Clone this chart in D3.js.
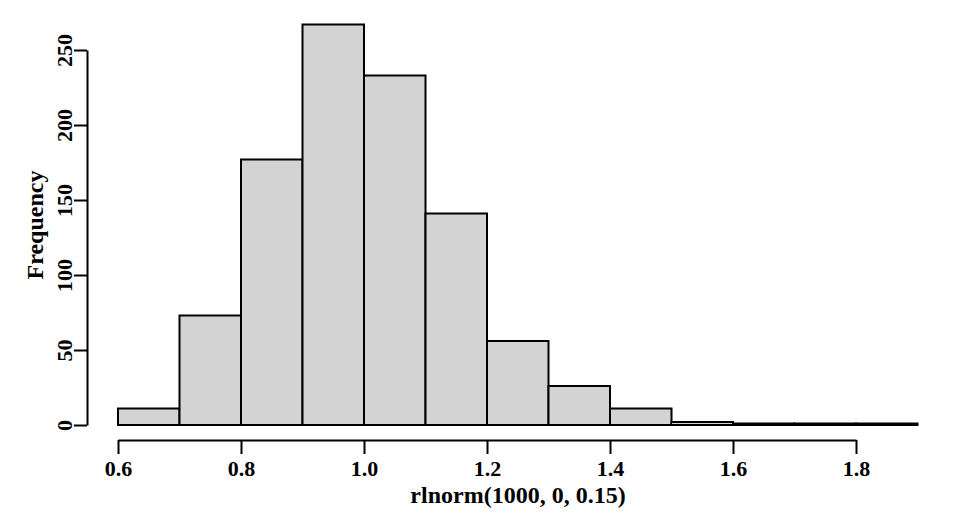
<!DOCTYPE html>
<html>
<head>
<meta charset="utf-8">
<script src="https://cdn.jsdelivr.net/npm/d3@7"></script>
<style>
  body { margin: 0; background: #fff; }
  svg { display: block; }
</style>
</head>
<body>
<svg width="960" height="528"></svg>
<script>
// histogram bins (left edges) and counts
const binStarts = [0.6, 0.7, 0.8, 0.9, 1.0, 1.1, 1.2, 1.3, 1.4, 1.5, 1.6, 1.7, 1.8];
const binWidth = 0.1;
const counts = [11, 73, 177, 267, 233, 141, 56, 26, 11, 2, 1, 1, 1];
const xTicks = [0.6, 0.8, 1.0, 1.2, 1.4, 1.6, 1.8];
const yTicks = [0, 50, 100, 150, 200, 250];
const xTitle = "rlnorm(1000, 0, 0.15)";
const yTitle = "Frequency";

const svg = d3.select("svg");
const font = "'Liberation Serif', 'Times New Roman', serif";

const x = d3.scaleLinear().domain([0.6, 1.8]).range([118, 856]);
const y = d3.scaleLinear().domain([0, 250]).range([425, 50]);

const bins = binStarts.map((b, i) => ({x0: b, x1: b + binWidth, n: counts[i]}));

svg.append("g")
    .selectAll("rect")
    .data(bins)
    .join("rect")
    .attr("x", d => x(d.x0))
    .attr("y", d => y(d.n))
    .attr("width", d => x(d.x1) - x(d.x0))
    .attr("height", d => y(0) - y(d.n))
    .attr("fill", "#d3d3d3")
    .attr("stroke", "#000")
    .attr("stroke-width", 2);

// x axis
const xAxis = svg.append("g")
    .attr("transform", "translate(0,440)")
    .call(d3.axisBottom(x).tickValues(xTicks).tickFormat(d3.format(".1f")).tickSize(14).tickSizeOuter(0));
xAxis.select(".domain").attr("stroke-width", 2);
xAxis.selectAll(".tick line").attr("stroke-width", 2);
xAxis.selectAll(".tick text")
    .attr("font-family", font)
    .attr("font-weight", "bold")
    .attr("font-size", 22)
    .attr("fill", "#000")
    .attr("y", 20)
    .attr("dy", "0.71em");

// y axis
const yAxis = svg.append("g")
    .attr("transform", "translate(87,0)")
    .call(d3.axisLeft(y).tickValues(yTicks).tickSize(13).tickSizeOuter(0));
yAxis.select(".domain").attr("stroke-width", 2);
yAxis.selectAll(".tick line").attr("stroke-width", 2);
yAxis.selectAll(".tick text")
    .attr("font-family", font)
    .attr("font-weight", "bold")
    .attr("font-size", 22)
    .attr("fill", "#000")
    .attr("x", null)
    .attr("dy", null)
    .attr("text-anchor", "middle")
    .attr("transform", "translate(-15,0) rotate(-90)");

// titles
svg.append("text")
    .attr("x", 518)
    .attr("y", 503)
    .attr("text-anchor", "middle")
    .attr("font-family", font)
    .attr("font-weight", "bold")
    .attr("font-size", 24)
    .text(xTitle);

svg.append("text")
    .attr("transform", "translate(43,225) rotate(-90)")
    .attr("text-anchor", "middle")
    .attr("font-family", font)
    .attr("font-weight", "bold")
    .attr("font-size", 24)
    .text(yTitle);
</script>
</body>
</html>
